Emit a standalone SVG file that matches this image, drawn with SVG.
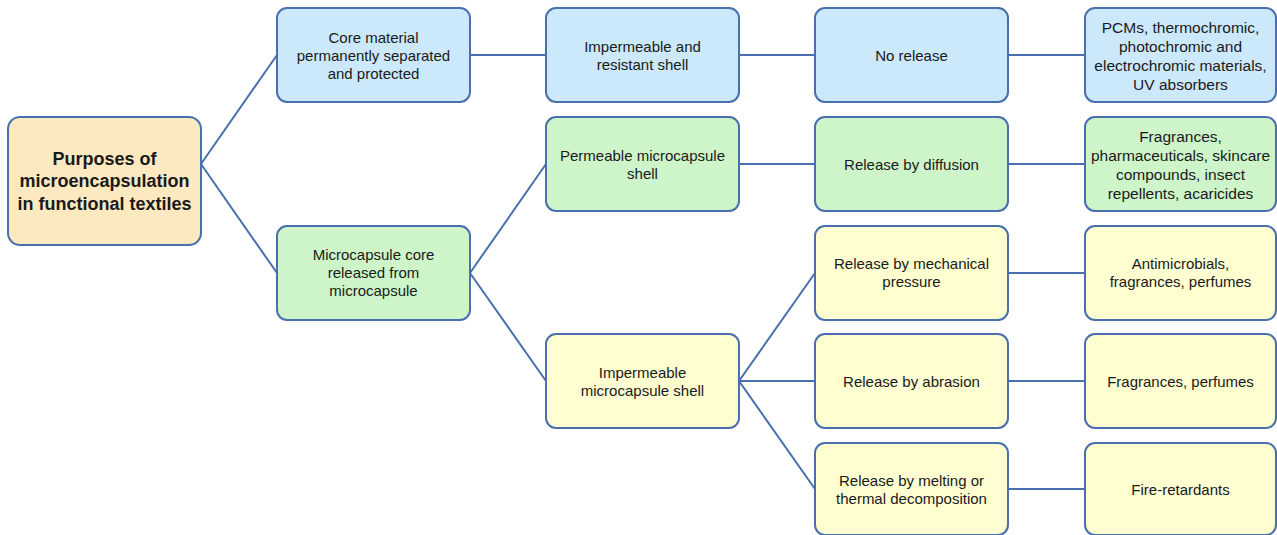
<svg xmlns="http://www.w3.org/2000/svg" width="1277" height="535" viewBox="0 0 1277 535">
<style>
.box{stroke:#4a6fae;stroke-width:2}
.blue{fill:#cce8fb}
.green{fill:#cdf5c9}
.yellow{fill:#fefed1}
.root{fill:#fde9bf}
text{font-family:"Liberation Sans",Arial,sans-serif;font-size:15px;fill:#1a1a1a;text-anchor:middle;dominant-baseline:central}
.rt{font-size:18px;font-weight:bold}
.wide{font-size:15.5px}
.con line{stroke:#4a6fae;stroke-width:2}
</style>
<rect width="1277" height="535" fill="#ffffff"/>
<g class="con">
<line x1="201" y1="164" x2="277" y2="55"/>
<line x1="201" y1="164" x2="277" y2="273"/>
<line x1="470" y1="55" x2="546" y2="55"/>
<line x1="739" y1="55" x2="815" y2="55"/>
<line x1="1008" y1="55" x2="1085" y2="55"/>
<line x1="470" y1="273" x2="546" y2="164"/>
<line x1="470" y1="273" x2="546" y2="381"/>
<line x1="739" y1="164" x2="815" y2="164"/>
<line x1="1008" y1="164" x2="1085" y2="164"/>
<line x1="739" y1="381" x2="815" y2="273"/>
<line x1="739" y1="381" x2="815" y2="381"/>
<line x1="739" y1="381" x2="815" y2="489"/>
<line x1="1008" y1="273" x2="1085" y2="273"/>
<line x1="1008" y1="381" x2="1085" y2="381"/>
<line x1="1008" y1="489" x2="1085" y2="489"/>
</g>
<g id="root"><rect class="box root" x="8" y="117" width="193" height="128" rx="12"/>
<text class="rt" x="104.5" y="159">Purposes of</text><text class="rt" x="104.5" y="181">microencapsulation</text><text class="rt" x="104.5" y="204">in functional textiles</text></g>
<g id="core"><rect class="box blue" x="277" y="8" width="193" height="94" rx="10"/>
<text x="373.5" y="37">Core material</text><text x="373.5" y="55">permanently separated</text><text x="373.5" y="73">and protected</text></g>
<g id="released"><rect class="box green" x="277" y="226" width="193" height="94" rx="10"/>
<text x="373.5" y="254">Microcapsule core</text><text x="373.5" y="272">released from</text><text x="373.5" y="290">microcapsule</text></g>
<g id="impres"><rect class="box blue" x="546" y="8" width="193" height="94" rx="10"/>
<text x="642.5" y="46">Impermeable and</text><text x="642.5" y="64">resistant shell</text></g>
<g id="perm"><rect class="box green" x="546" y="117" width="193" height="94" rx="10"/>
<text x="642.5" y="155">Permeable microcapsule</text><text x="642.5" y="173">shell</text></g>
<g id="imperm"><rect class="box yellow" x="546" y="334" width="193" height="94" rx="10"/>
<text x="642.5" y="372">Impermeable</text><text x="642.5" y="390">microcapsule shell</text></g>
<g id="norelease"><rect class="box blue" x="815" y="8" width="193" height="94" rx="10"/>
<text x="911.5" y="55">No release</text></g>
<g id="diffusion"><rect class="box green" x="815" y="117" width="193" height="94" rx="10"/>
<text x="911.5" y="164">Release by diffusion</text></g>
<g id="mech"><rect class="box yellow" x="815" y="226" width="193" height="94" rx="10"/>
<text x="911.5" y="263">Release by mechanical</text><text x="911.5" y="281">pressure</text></g>
<g id="abrasion"><rect class="box yellow" x="815" y="334" width="193" height="94" rx="10"/>
<text x="911.5" y="381">Release by abrasion</text></g>
<g id="melting"><rect class="box yellow" x="815" y="443" width="193" height="92" rx="10"/>
<text x="911.5" y="480">Release by melting or</text><text x="911.5" y="498">thermal decomposition</text></g>
<g id="pcms"><rect class="box blue" x="1085" y="8" width="191" height="94" rx="10"/>
<text class="wide" x="1180.5" y="27">PCMs, thermochromic,</text><text class="wide" x="1180.5" y="46">photochromic and</text><text class="wide" x="1180.5" y="65">electrochromic materials,</text><text class="wide" x="1180.5" y="84">UV absorbers</text></g>
<g id="fragr"><rect class="box green" x="1085" y="117" width="191" height="94" rx="10"/>
<text class="wide" x="1180.5" y="136">Fragrances,</text><text class="wide" x="1180.5" y="155">pharmaceuticals, skincare</text><text class="wide" x="1180.5" y="174">compounds, insect</text><text class="wide" x="1180.5" y="193">repellents, acaricides</text></g>
<g id="antimic"><rect class="box yellow" x="1085" y="226" width="191" height="94" rx="10"/>
<text x="1180.5" y="263">Antimicrobials,</text><text x="1180.5" y="281">fragrances, perfumes</text></g>
<g id="fragperf"><rect class="box yellow" x="1085" y="334" width="191" height="94" rx="10"/>
<text x="1180.5" y="381">Fragrances, perfumes</text></g>
<g id="fire"><rect class="box yellow" x="1085" y="443" width="191" height="92" rx="10"/>
<text x="1180.5" y="489">Fire-retardants</text></g>
</svg>
